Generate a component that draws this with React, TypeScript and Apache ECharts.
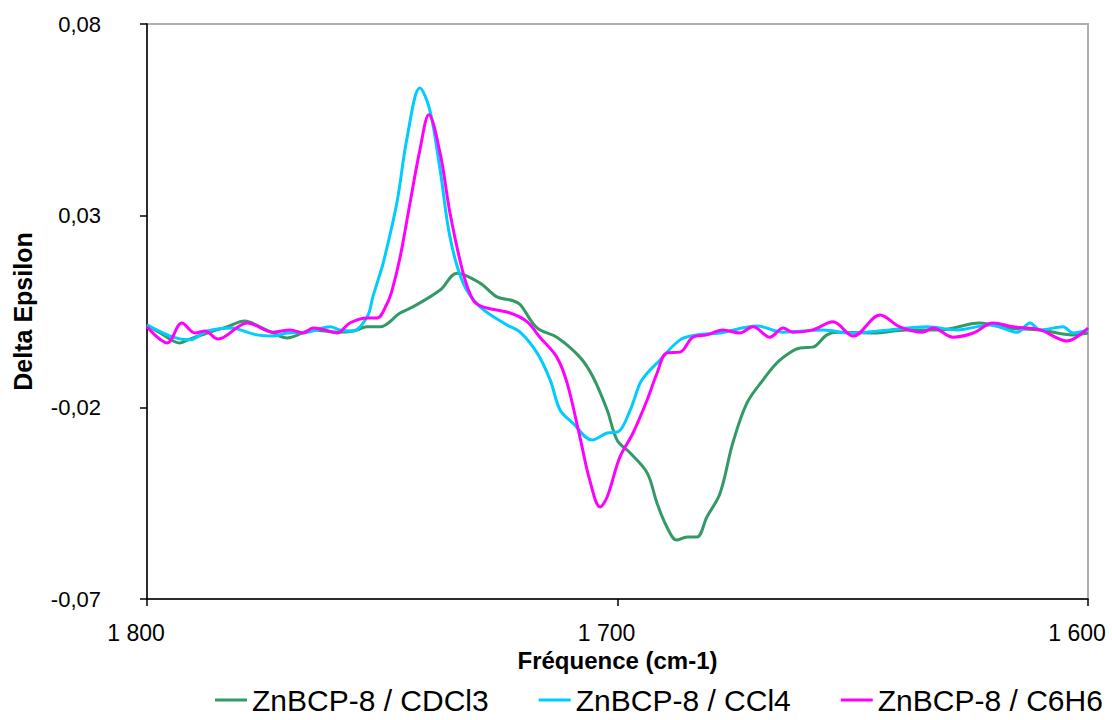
import React, { useEffect, useRef } from "react";
import * as echarts from "echarts";

// ---- Data ----
const seriesNames = ["ZnBCP-8 / CDCl3", "ZnBCP-8 / CCl4", "ZnBCP-8 / C6H6"];
const seriesColors = ["#339966", "#00CCFF", "#FF00FF"];

const cdcl3Freq = [1800, 1797.2, 1793, 1790.9, 1787.2, 1783, 1779.2, 1776, 1773.2, 1770.2, 1764.7, 1759.6, 1756.2, 1753.2, 1750.5, 1746.2, 1743.5, 1737.7, 1734.1, 1729.2, 1725.6, 1722.2, 1720.7, 1717.1, 1712.9, 1708, 1705.2, 1702.2, 1700.1, 1697.3, 1693.7, 1691.6, 1689.5, 1687.4, 1685.2, 1683.1, 1681, 1678.2, 1675.5, 1672.5, 1669.1, 1665.5, 1661.2, 1658.5, 1655.5, 1653.3, 1645.7, 1638.5, 1631.5, 1623, 1617.2, 1610.2, 1603.2, 1600];
const cdcl3Values = [0.0015, -0.0006, -0.0032, -0.0022, -0.0006, 0.001, 0.0025, 0.001, -0.0006, -0.0019, 0.0002, -0.0004, -0.0001, 0.001, 0.001, 0.0046, 0.0062, 0.0106, 0.015, 0.0124, 0.0088, 0.0078, 0.0068, 0.0007, -0.0017, -0.0069, -0.0121, -0.0207, -0.0285, -0.0319, -0.0371, -0.045, -0.0512, -0.0546, -0.0538, -0.0538, -0.0486, -0.0424, -0.0293, -0.0189, -0.0129, -0.0077, -0.0045, -0.0043, -0.0011, -0.0004, -0.0006, 0.0002, 0.0002, 0.002, 0.0007, 0.0002, -0.0011, -0.0006];

const ccl4Freq = [1800, 1794.5, 1790.9, 1787.2, 1781.7, 1780.2, 1776.6, 1773.2, 1770.2, 1766, 1761.1, 1759, 1756.2, 1753.2, 1752, 1750.9, 1749.8, 1746.9, 1744.7, 1742, 1739.9, 1737.7, 1735.6, 1732.8, 1729.2, 1723.5, 1720.7, 1717.1, 1714.3, 1712.2, 1709.5, 1705.4, 1702.2, 1699.9, 1697.3, 1695.2, 1693.7, 1691, 1686.7, 1683.1, 1678.2, 1670.3, 1664.8, 1656.3, 1650.6, 1642.1, 1634.2, 1627.8, 1620.8, 1615.1, 1612.3, 1610.2, 1605.3, 1603.2, 1600];
const ccl4Values = [0.0015, -0.0017, -0.0024, -0.0001, 0.0007, 0.0002, -0.0011, -0.0014, -0.0006, -0.0004, 0.001, 0.0002, -0.0001, 0.0036, 0.0088, 0.0132, 0.0176, 0.0333, 0.0505, 0.0633, 0.0576, 0.0419, 0.0244, 0.0124, 0.0062, 0.0015, -0.0004, -0.0058, -0.0129, -0.0207, -0.0241, -0.0285, -0.0267, -0.0264, -0.0207, -0.0137, -0.0111, -0.0077, -0.0024, -0.0011, -0.0006, 0.0012, -0.0004, 0.0002, -0.0006, 0.0002, 0.001, 0.0002, 0.0015, -0.0004, 0.002, 0.0002, 0.001, -0.0006, 0.0002];

const c6h6Freq = [1800, 1795.7, 1792.6, 1789.8, 1787.7, 1784.9, 1778.7, 1773.2, 1769.6, 1766.8, 1764.7, 1762.2, 1759.6, 1756.9, 1753.2, 1751.1, 1749, 1747.9, 1746.2, 1744.1, 1742, 1740.1, 1737.7, 1735.6, 1732.8, 1730.7, 1728.6, 1722.8, 1719.2, 1716.5, 1712.9, 1710.7, 1708, 1705.9, 1703.7, 1702.2, 1699.5, 1696.7, 1693.7, 1691.6, 1689.5, 1686.7, 1684, 1681, 1677.6, 1674, 1671.2, 1667.6, 1664.8, 1662.7, 1658.5, 1654.2, 1649.9, 1644.2, 1640, 1635.1, 1632.9, 1628.7, 1624.4, 1620.2, 1615.9, 1610.2, 1604.5, 1600];
const c6h6Values = [0.001, -0.0032, 0.002, -0.0006, -0.0001, -0.0022, 0.002, -0.0004, 0.0002, -0.0006, 0.0007, 0.0002, -0.0006, 0.002, 0.0033, 0.0033, 0.007, 0.0106, 0.0192, 0.0333, 0.0471, 0.0563, 0.0463, 0.0307, 0.015, 0.008, 0.0062, 0.0046, 0.0023, -0.0017, -0.0069, -0.0137, -0.0277, -0.039, -0.046, -0.0434, -0.033, -0.0267, -0.0181, -0.0111, -0.0058, -0.0056, -0.0017, -0.0011, 0.0002, -0.0006, 0.001, -0.0017, 0.0007, -0.0004, 0.0002, 0.0023, -0.0014, 0.0041, 0.001, -0.0004, 0.0007, -0.0017, -0.0006, 0.002, 0.001, 0.0002, -0.0027, 0.0007];

const xMin = 1600;
const xMax = 1800;
const xStep = 100;
const yMin = -0.07;
const yMax = 0.08;
const yStep = 0.05;

const xTitle = "Fréquence (cm-1)";
const yTitle = "Delta Epsilon";

const FONT = "'Liberation Sans', Arial, sans-serif";

const zip = (xs: number[], ys: number[]) => xs.map((x, i) => [x, ys[i]]);

export default function App() {
  const ref = useRef<HTMLDivElement>(null);

  useEffect(() => {
    if (!ref.current) return;
    const chart = echarts.init(ref.current, undefined, { renderer: "svg" });
    const allData = [
      zip(cdcl3Freq, cdcl3Values),
      zip(ccl4Freq, ccl4Values),
      zip(c6h6Freq, c6h6Values),
    ];
    chart.setOption({
      animation: false,
      backgroundColor: "#ffffff",
      grid: {
        left: 147,
        right: 24,
        top: 24,
        bottom: 121,
        show: true,
        borderColor: "#b0b0b0",
        borderWidth: 2,
        backgroundColor: "transparent",
      },
      legend: {
        bottom: 0,
        left: 210,
        icon: "rect",
        itemWidth: 32,
        itemHeight: 3,
        itemGap: 50,
        data: seriesNames,
        textStyle: { fontFamily: FONT, fontSize: 30, color: "#000" },
      },
      xAxis: {
        type: "value",
        inverse: true,
        min: xMin,
        max: xMax,
        interval: xStep,
        name: xTitle,
        nameLocation: "middle",
        nameGap: 48,
        nameTextStyle: { fontFamily: FONT, fontSize: 24, fontWeight: "bold", color: "#000" },
        axisLine: { show: true, onZero: false, lineStyle: { color: "#000", width: 1.5 } },
        axisTick: { show: true, inside: false, length: 7, lineStyle: { color: "#000", width: 1.5 } },
        splitLine: { show: false },
        axisLabel: {
          margin: 22,
          formatter: (v: number) =>
            "{t|" + String(Math.round(v)).replace(/\B(?=(\d{3})+(?!\d))/g, " ") + "}",
          rich: {
            t: {
              fontFamily: FONT,
              fontSize: 23,
              color: "#000",
              padding: [0, 22, 0, 0],
            },
          },
        },
      },
      yAxis: {
        type: "value",
        min: yMin,
        max: yMax,
        interval: yStep,
        name: yTitle,
        nameLocation: "middle",
        nameGap: 112,
        nameTextStyle: { fontFamily: FONT, fontSize: 25, fontWeight: "bold", color: "#000" },
        axisLine: { show: true, onZero: false, lineStyle: { color: "#000", width: 1.5 } },
        axisTick: { show: true, inside: false, length: 7, lineStyle: { color: "#000", width: 1.5 } },
        splitLine: { show: false },
        axisLabel: {
          fontFamily: FONT,
          fontSize: 22,
          color: "#000",
          margin: 46,
          formatter: (v: number) => v.toFixed(2).replace(".", ","),
        },
      },
      series: seriesNames.map((name, i) => ({
        name,
        type: "line",
        data: allData[i],
        smooth: 0.35,
        showSymbol: false,
        symbol: "none",
        lineStyle: { color: seriesColors[i], width: 3 },
        itemStyle: { color: seriesColors[i] },
      })),
    });
    return () => chart.dispose();
  }, []);

  return (
    <div
      ref={ref}
      style={{ position: "fixed", left: 0, top: 0, width: 1112, height: 720, background: "#fff" }}
    />
  );
}
